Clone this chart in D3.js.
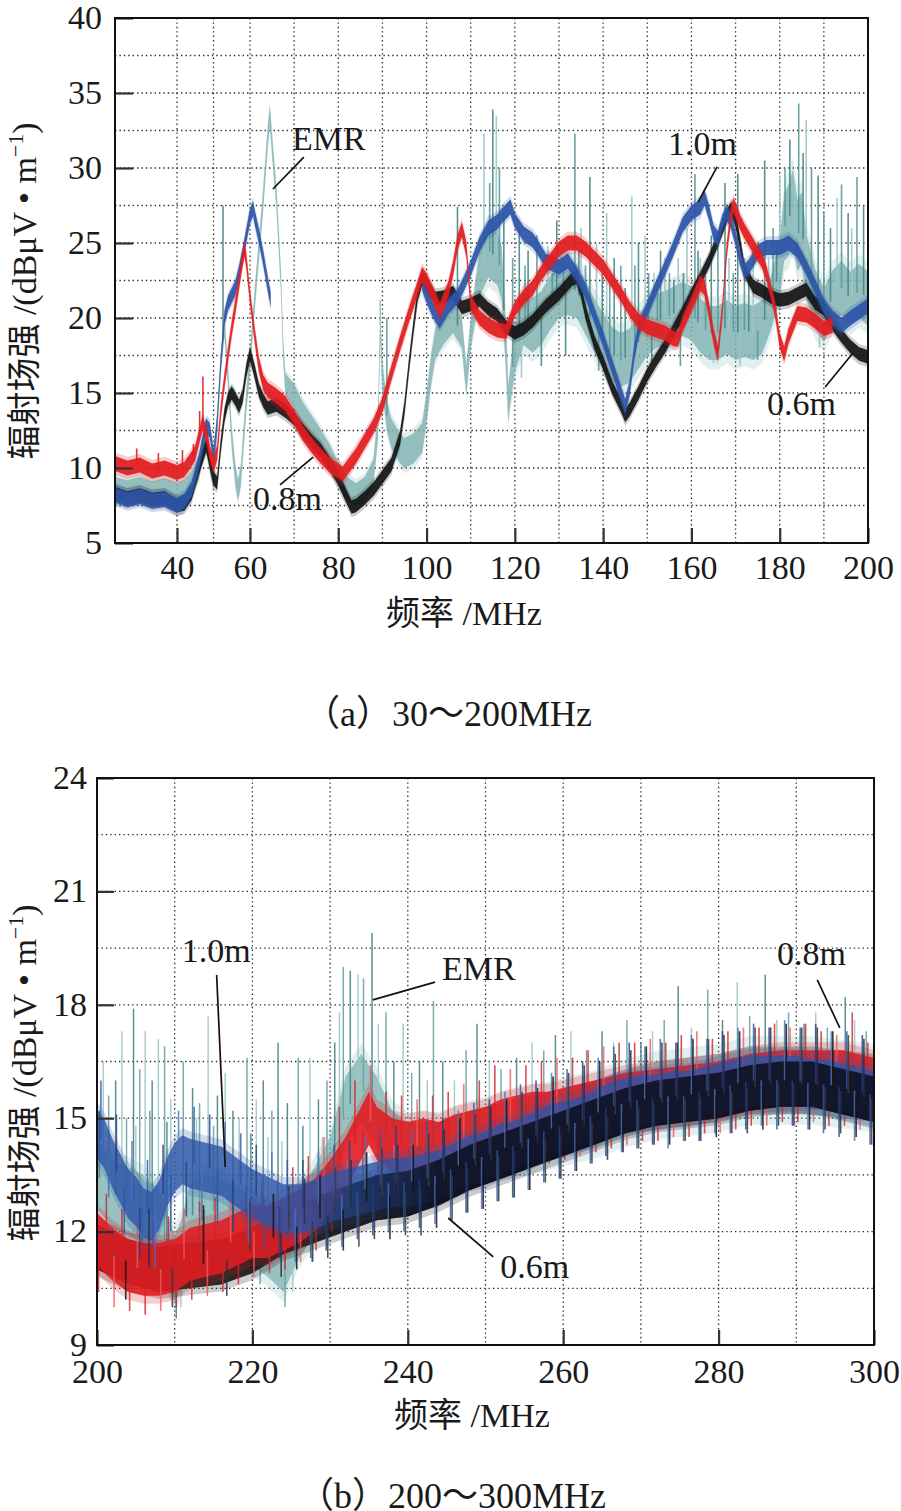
<!DOCTYPE html>
<html><head><meta charset="utf-8">
<script src="https://cdn.jsdelivr.net/npm/d3@7"></script>
<style>
body{margin:0;background:#fff;}
svg{display:block;background:#fff;}
text{font-family:"Liberation Serif","Times New Roman","Noto Sans CJK SC",serif;fill:#1a1a1a;}
</style></head><body>
<svg id="chart" width="901" height="1511"></svg>
<script>
// ================= PANEL (a) 30–200 MHz =================
const aTicksX = [40,60,80,100,120,140,160,180,200];
const aTicksY = [5,10,15,20,25,30,35,40];
const aGridX = [40,50,60,70,80,90,100,110,120,130,140,150,160,170,180,190];
const aGridY = [7.5,10,12.5,15,17.5,20,22.5,25,27.5,30,32.5,35,37.5];

// 0.6m (black)
const aFreqBlack = [30,32,34,36,38,40,42,44,46,48,50,51,52,53,54,55,56,57,58,59,60,61,62,63,64,66,68,70,72,74,76,78,80,82,83,84,86,88,90,92,94,95,96,97,98,99,100,102,104,106,108,110,112,114,116,118,120,122,124,127,130,133,134,135,136,138,140,142,144,145,146,148,150,152,154,156,158,160,162,164,166,168,169,170,171,172,174,176,178,180,182,184,186,188,190,192,194,196,198,200];
const aBlack = [8.3,8.0,8.2,7.9,8.0,7.5,7.6,8.3,10.0,11.5,9.3,9.0,11.5,13.5,14.6,15.0,14.6,14.1,14.8,16.5,17.6,16.5,15.2,14.5,14.0,14.2,13.8,13.3,12.5,11.8,11.2,10.3,9.3,8.0,7.4,7.5,8.0,8.6,9.4,10.2,12.0,14.0,16.8,19.3,21.6,22.6,22.2,21.3,21.4,21.7,20.7,20.9,21.2,20.6,20.2,19.4,19.0,19.3,19.8,20.8,21.6,22.6,22.7,21.8,20.4,18.4,17.0,15.4,14.2,13.5,13.9,15.0,16.2,17.2,18.1,19.2,20.3,21.5,22.6,23.8,25.2,26.8,27.3,26.5,25.0,23.2,22.1,21.8,21.4,21.2,21.3,21.6,21.9,21.0,20.6,19.6,18.8,18.1,17.6,17.4];

// 0.8m (red)
const aFreqRed = [30,32,34,36,38,40,42,44,45,46,47,48,49,50,51,52,53,54,55,56,57,58,58.5,59,60,61,62,63,64,66,68,70,72,74,76,78,80,81,82,84,86,88,90,92,94,96,98,99,100,102,103,104,105,106,107,108,109,110,112,114,116,118,120,122,124,126,128,130,132,134,136,138,140,142,144,146,148,150,152,154,156,157,158,160,162,163,164,165,166,167,168,169,169.5,170,171,172,174,176,177,178,179,180,181,182,184,186,188,190,192];
const aRed = [10.3,10.0,10.2,9.8,10.0,9.7,9.9,10.6,11.0,12.0,13.0,12.3,11.0,10.2,11.0,13.8,15.8,17.6,19.3,20.8,22.4,24.0,24.6,23.8,21.4,19.0,16.9,15.7,15.2,14.8,14.3,13.4,12.3,11.5,10.8,10.2,9.8,9.6,10.0,10.8,11.8,12.8,14.2,16.3,18.3,20.2,22.0,22.9,22.5,21.2,20.5,21.2,22.0,23.3,25.0,25.9,24.6,21.0,20.0,19.5,19.2,19.1,20.6,21.4,22.0,23.0,23.8,24.6,25.0,25.0,24.6,24.0,23.4,22.5,21.6,20.6,19.8,19.4,19.2,19.0,18.6,18.6,19.6,20.9,22.3,22.0,20.5,18.8,17.6,20.5,24.5,27.0,27.5,27.2,26.4,25.8,24.8,23.8,23.0,21.8,20.5,18.5,17.6,18.8,20.3,20.2,19.8,19.3,19.5];
const aRedSpikes = [[33.5,11.3],[37,11.0],[41.5,11.2],[44.5,11.6],[46.2,13.8],[47.1,16.1]];

// 1.0m (blue) – null marks the hidden stretch
const aFreqBlue = [30,32,34,36,38,40,42,44,46,48,49,50,51,52,53,54,55,56,57,58,59,60,60.7,61,62,63,64,64.7,65,99,100,101,102,103,104,105,107,108,110,112,114,116,117,119,120,122,124,125,127,130,132,134,136,138,140,142,144,145,146,147,148,150,152,154,156,158,160,162,163,164,165,166,167,168,169,170,171,172,173,175,177,180,182,184,186,188,190,192,194,196,198,200];
const aBlue = [8.2,7.9,8.1,7.8,7.9,7.5,7.8,8.6,10.4,12.8,12.5,10.8,13.0,17.0,20.0,21.0,21.5,22.0,23.0,24.2,25.5,26.8,27.3,26.8,25.5,24.0,22.3,21.2,null,22.3,21.5,20.8,20.2,19.8,20.3,20.8,21.4,22.0,23.3,24.9,26.0,26.4,26.8,27.4,26.5,25.6,25.2,24.8,23.8,23.4,23.8,22.9,21.8,20.2,18.6,16.8,15.0,14.1,15.3,17.6,19.2,20.6,22.0,23.3,24.7,26.2,27.0,27.4,28.0,27.0,25.7,25.3,26.4,27.0,26.4,25.3,24.0,23.1,23.4,24.4,24.7,24.7,25.0,24.5,23.4,22.1,20.8,20.0,19.5,20.0,20.4,20.8];

// EMR (teal)
const aFreqEmr = [30,32,34,36,38,40,42,44,46,47,48,49,50,51,52,53,54,55,56,56.7,57.5,58,59,60,61,62,63,64,64.5,65,66,67,67.5,68,70,72,74,76,78,80,82,84,86,88,89,89.5,90,91,92,94,95,97,99,100,101,102,104,106,108,109,110,112,114,116,117,118,118.5,119,120,122,124,126,128,130,132,134,136,138,140,142,144,146,148,150,152,154,156,158,160,162,164,166,168,170,172,174,176,178,180,181,182,183,184,185,186,188,190,192,194,196,198,200];
const aEmr = [8.6,8.4,8.6,8.3,8.5,8.2,8.4,9.0,10.0,11.5,12.5,10.5,9.2,13.0,17.0,19.5,16.0,12.0,9.5,8.5,9.5,11.2,14.5,17.0,21.0,24.5,28.0,32.0,33.5,31.5,28.0,22.5,18.0,15.6,14.8,13.6,12.7,11.8,10.8,9.6,8.6,8.2,8.6,9.8,13.0,19.5,16.0,13.5,12.3,11.3,11.0,11.3,12.0,14.0,16.5,18.3,19.3,20.0,19.0,15.8,19.0,23.0,24.5,24.0,23.0,18.0,14.3,15.5,18.0,20.0,19.5,20.0,21.0,21.8,22.0,21.8,20.7,19.5,18.5,17.6,17.2,17.5,18.4,19.3,19.8,20.0,20.3,20.6,20.3,19.5,19.0,19.0,19.4,19.0,19.2,19.0,19.4,21.0,23.2,26.0,26.5,27.5,25.5,26.0,23.5,21.3,20.2,21.4,22.0,21.3,21.8,21.3];
// EMR noise half-width at each EMR point (dB)
const aEmrNoise = [0.8,0.8,0.8,0.8,0.8,0.8,0.8,0.8,0.8,0.7,0.7,0.7,0.7,0.7,0.7,0.7,0.7,0.7,0.7,0.7,0.7,0.7,0.7,0.7,0.7,0.7,0.7,0.7,0.7,0.7,0.7,0.7,0.7,0.7,0.8,0.8,0.8,0.8,0.8,0.8,0.8,0.8,0.8,0.8,1.0,1.0,1.0,1.0,1.0,1.0,1.0,1.0,1.0,1.0,1.0,1.0,1.0,1.0,1.0,1.0,1.0,1.6,1.8,1.8,1.8,1.6,1.2,1.2,1.6,1.8,1.8,1.8,1.8,1.8,1.8,1.8,1.8,1.8,1.8,1.8,1.8,1.8,1.8,1.8,1.8,1.8,1.8,1.8,1.8,1.8,1.8,1.8,1.8,1.8,1.8,1.8,1.8,1.8,2.0,2.2,2.4,2.4,2.4,2.4,2.2,2.0,1.8,1.8,1.8,1.8,1.8,1.8];
const aEmrSpikeF = [52.6,89.5,91,107,113,114.3,115,115.8,116.5,117.5,118.5,119.5,121,121.5,122.3,123,124,125,126,127.5,128.5,129.5,130.3,131,131.5,132.3,133.6,134.5,135,136,137,138.5,139,139.8,140.8,141.5,142.5,143,144,145,146.5,147.2,148,149.5,150.3,151,151.5,152.3,153,154,155,156,157,157.5,158.2,159,160.8,161.5,162,163.2,164.5,165,166,167.6,168.5,169.5,170.5,171,172,173,174,175,176.6,177.5,178.5,179.3,180,181.2,182.3,183.4,184.3,185.3,186,187.2,188.7,189,190,191.5,193,194,195.5,196.3,197.5,199];
const aEmrSpikeV = [27.5,21.2,20.0,27.4,32.3,29.0,33.9,33.5,30.0,27.0,14.0,24.0,26.0,16.0,23.5,24.5,22.5,25.5,16.8,24.8,23.0,26.5,24.5,24.0,17.5,23.8,32.3,24.5,26.0,23.5,29.4,25.0,16.5,23.0,27.0,22.5,24.0,16.0,23.5,22.0,28.1,23.5,25.0,25.5,23.0,17.0,23.0,22.5,24.5,24.0,23.0,22.5,24.0,16.8,23.0,26.0,29.6,24.5,24.0,22.8,25.5,17.0,25.0,29.0,24.0,23.0,29.6,16.8,24.0,22.5,25.0,17.2,30.5,24.0,26.0,25.0,29.5,30.0,31.9,29.0,34.3,31.0,33.2,30.0,29.5,18.0,27.0,26.0,28.0,28.9,27.0,26.0,29.4,27.5];

// band half-widths (noise envelope, dB): black, red, blue
const aNoise = [0.45, 0.5, 0.5];

// ================= PANEL (b) 200–300 MHz =================
const bTicksX = [200,220,240,260,280,300];
const bTicksY = [9,12,15,18,21,24];
const bGridX = [210,220,230,240,250,260,270,280,290];
const bGridY = [10.5,12,13.5,15,16.5,18,19.5,21,22.5];

const bFreqBlue = [200,201,202,203,204,205,206,207,208,209,210,211,212,214,216,218,220,222,224,226,228,230,232,234,236,238,240,242,244,246,248,250,252,254,256,258,260,262,264,266,268,270,272,274,276,278,280,282,284,286,288,290,292,294,296,298,300];
const bBlue = [14.6,14.3,13.8,13.4,13.0,12.8,12.5,12.4,12.7,13.3,13.7,13.9,13.8,13.7,13.6,13.3,13.0,12.8,12.6,12.6,12.7,12.9,13.0,13.1,13.2,13.3,13.3,13.4,13.5,13.7,13.9,14.0,14.2,14.3,14.5,14.7,14.8,14.9,15.1,15.3,15.4,15.5,15.5,15.6,15.6,15.7,15.8,15.9,16.0,16.0,16.0,16.0,15.9,15.9,15.8,15.7,15.6];
const bBlueSpikes = [[200.5,16.0],[201.5,12.9],[202.5,15.1],[203.5,11.9],[204.5,14.4],[205.5,11.3],[206.5,13.9],[207.5,11.0],[208.5,14.3],[209.5,12.0],[210.5,15.2],[211.5,12.4],[212.5,15.3],[213.5,12.3],[214.5,15.1],[215.5,12.2],[216.5,14.9],[217.5,12.0],[218.5,14.6],[219.5,11.7],[220.5,14.3],[221.5,11.5],[222.5,14.1],[223.5,11.3],[224.5,13.9],[225.5,11.2],[226.5,13.9],[227.5,11.3],[228.5,14.1],[229.5,11.5],[230.5,14.3],[231.5,11.6],[232.5,14.4],[233.5,11.8],[234.5,14.5],[235.5,11.9],[236.5,14.7],[237.5,12.0],[238.5,14.8],[239.5,12.0],[240.5,14.7],[241.5,12.1],[242.5,14.9],[243.5,12.2],[244.5,15.0],[245.5,12.3],[246.5,15.2],[247.5,12.5],[248.5,15.4],[249.5,12.6],[250.5,15.5],[251.5,12.8],[252.5,15.7],[253.5,12.9],[254.5,15.9],[255.5,13.1],[256.5,16.0],[257.5,13.3],[258.5,16.2],[259.5,13.4],[260.5,16.3],[261.5,13.6],[262.5,16.5],[263.5,13.8],[264.5,16.6],[265.5,14.0],[266.5,16.9],[267.5,14.1],[268.5,17.0],[269.5,14.2],[270.5,16.9],[271.5,14.3],[272.5,17.1],[273.5,14.2],[274.5,17.0],[275.5,14.4],[276.5,17.2],[277.5,14.4],[278.5,17.1],[279.5,14.6],[280.5,17.3],[281.5,14.6],[282.5,17.4],[283.5,14.7],[284.5,17.5],[285.5,14.8],[286.5,17.4],[287.5,14.7],[288.5,17.6],[289.5,14.8],[290.5,17.4],[291.5,14.7],[292.5,17.5],[293.5,14.6],[294.5,17.3],[295.5,14.5],[296.5,17.3],[297.5,14.4],[298.5,17.2],[299.5,14.3]];

const bFreqRed = [200,202,204,206,208,210,212,214,216,218,220,222,224,226,228,230,232,234,235,236,238,240,242,244,246,248,250,252,254,256,258,260,264,268,272,276,280,284,288,292,296,300];
const bRed = [11.8,11.4,11.1,11.0,11.0,11.1,11.4,11.5,11.6,11.8,12.0,12.0,12.2,12.4,12.7,13.2,13.8,14.6,15.0,14.6,14.3,14.2,14.3,14.2,14.4,14.5,14.6,14.8,14.9,15.0,15.0,15.1,15.3,15.5,15.6,15.7,15.8,16.0,16.1,16.1,16.1,15.9];
const bRedSpikes = [[200.2,10.4],[201.2,13.0],[202.2,10.0],[203.2,12.6],[204.2,9.9],[205.2,12.4],[206.2,9.8],[207.2,12.3],[208.2,9.9],[209.2,12.4],[210.2,10.0],[211.2,12.6],[212.2,10.2],[213.2,12.8],[214.2,10.3],[215.2,12.9],[216.2,10.4],[217.2,13.0],[218.2,10.6],[219.2,13.2],[220.2,10.8],[221.2,13.3],[222.2,10.9],[223.2,13.4],[224.2,11.0],[225.2,13.7],[226.2,11.2],[227.2,14.0],[228.2,11.5],[229.2,14.5],[230.2,12.0],[231.2,15.3],[232.2,12.6],[233.2,16.0],[234.2,13.4],[235.2,16.4],[236.2,13.4],[237.2,15.7],[238.2,13.1],[239.2,15.6],[240.2,13.0],[241.2,15.5],[242.2,13.1],[243.2,15.6],[244.2,13.0],[245.2,15.7],[246.2,13.2],[247.2,15.9],[248.2,13.3],[249.2,16.0],[250.2,13.4],[251.2,16.4],[252.2,13.6],[253.2,16.3],[254.2,13.7],[255.2,16.4],[256.2,13.8],[257.2,16.5],[258.2,13.8],[259.2,16.6],[260.2,13.9],[261.2,16.6],[262.2,14.0],[263.2,16.8],[264.2,14.1],[265.2,16.9],[266.2,14.2],[267.2,17.0],[268.2,14.3],[269.2,17.0],[270.2,14.4],[271.2,17.1],[272.2,14.4],[273.2,17.0],[274.2,14.5],[275.2,17.2],[276.2,14.5],[277.2,17.3],[278.2,14.6],[279.2,17.1],[280.2,14.6],[281.2,17.3],[282.2,14.7],[283.2,17.4],[284.2,14.8],[285.2,17.4],[286.2,14.8],[287.2,17.5],[288.2,14.9],[289.2,17.4],[290.2,14.9],[291.2,17.5],[292.2,14.9],[293.2,17.3],[294.2,14.8],[295.2,17.2],[296.2,14.8],[297.2,17.8],[298.2,14.7],[299.2,17.0]];

const bFreqBlack = [200,204,208,212,216,220,224,228,232,236,240,244,248,252,256,260,264,268,272,276,280,284,288,292,296,300];
const bBlack = [11.6,11.2,11.0,11.1,11.2,11.5,12.0,12.3,12.6,12.9,13.0,13.3,13.7,14.0,14.3,14.6,14.9,15.2,15.4,15.5,15.6,15.8,15.9,15.9,15.7,15.5];
const bBlackSpikes = [[203.7,10.2],[206.7,12.6],[209.7,10.0],[213.7,12.7],[216.7,10.3],[219.7,12.8],[222.7,13.0],[223.7,10.8],[224.7,13.2],[225.7,11.0],[226.7,13.4],[227.7,11.2],[228.7,13.5],[229.7,11.3],[230.7,13.7],[231.7,11.5],[232.7,13.9],[233.7,11.6],[234.7,14.1],[235.7,11.8],[236.7,14.2],[237.7,11.8],[238.7,14.3],[239.7,11.9],[240.7,14.3],[241.7,11.9],[242.7,14.6],[243.7,12.1],[244.7,14.7],[245.7,12.3],[246.7,15.0],[247.7,12.5],[248.7,15.1],[249.7,12.6],[250.7,15.3],[251.7,12.8],[252.7,15.5],[253.7,12.9],[254.7,15.7],[255.7,13.1],[256.7,15.8],[257.7,13.3],[258.7,16.1],[259.7,13.4],[260.7,16.2],[261.7,13.6],[262.7,16.4],[263.7,13.8],[264.7,16.5],[265.7,13.9],[266.7,16.7],[267.7,14.1],[268.7,16.8],[269.7,14.2],[270.7,16.9],[271.7,14.3],[272.7,17.0],[273.7,14.3],[274.7,17.0],[275.7,14.4],[276.7,17.1],[277.7,14.4],[278.7,17.1],[279.7,14.5],[280.7,17.2],[281.7,14.6],[282.7,17.3],[283.7,14.6],[284.7,17.4],[285.7,14.7],[286.7,17.4],[287.7,14.8],[288.7,17.5],[289.7,14.8],[290.7,17.4],[291.7,14.7],[292.7,17.4],[293.7,14.7],[294.7,17.3],[295.7,14.6],[296.7,17.2],[297.7,14.5],[298.7,17.1],[299.7,14.3]];

const bFreqEmr = [200,202,204,206,208,210,211,212,214,216,218,220,222,224,226,228,230,232,234,236,238,240,244,248,252,256,260,264,268,272,276,280,284,288,292,296,300];
const bEmr = [13.5,13.0,12.8,12.6,12.2,11.0,11.5,12.4,12.6,12.5,12.3,12.0,11.7,11.3,12.2,12.8,13.6,15.2,15.8,15.2,14.3,14.0,14.0,14.3,14.5,14.7,14.9,15.1,15.4,15.6,15.7,15.8,16.0,16.0,16.0,15.9,15.8];
const bEmrSpikeF = [200.3,200.8,201.5,202.4,203.2,203.8,204.7,205,205.5,205.8,206.2,206.8,207.1,207.9,208.7,209,209.5,209.8,210.2,210.8,211.1,212.3,212.8,213.2,213.8,214.3,215,215.5,216.5,217,217.5,218.3,219.3,219.8,220.5,221,221.4,222,222.5,223.3,223.8,224.2,224.5,225.2,225.9,226.5,227.4,227.8,228.5,229,229.6,230.6,231.2,231.7,232.6,233.6,234.3,235.4,236.2,237.2,238.2,239.4,240.5,241.5,242.5,243.3,244.5,246,247.5,248.9,250.5,252,254,256,257.5,259,261,263,265,266.5,268.2,270,271.5,273,274.8,276.5,278.6,280.5,282.4,284,286,287.5,289,291,292.5,294,296.3,297.5,299];
const bEmrSpikeV = [15.2,16.5,15.6,16.0,17.3,15.0,17.9,14.8,16.3,10.8,17.3,15.2,16.0,17.1,16.9,14.9,15.5,10.5,9.7,10.0,16.5,15.8,15.0,15.4,10.8,17.7,14.8,15.6,16.2,11.0,15.2,15.0,16.6,14.6,15.5,10.6,16.0,14.5,15.2,17.0,14.4,10.0,15.4,10.4,16.6,14.8,16.6,11.2,15.5,14.5,16.0,17.0,17.8,19.0,18.9,18.8,18.7,19.9,17.5,17.8,16.5,17.5,16.2,16.5,16.0,18.1,16.5,16.0,16.8,17.5,16.5,16.3,16.6,17.0,16.8,17.2,17.3,16.8,17.3,17.0,17.6,17.0,17.3,17.6,18.5,17.4,18.4,17.6,18.6,17.7,18.8,17.6,17.8,17.5,17.8,17.4,18.2,17.6,17.3];

// band half-widths: black, red, blue, EMR
const bNoise = [0.6, 0.7, 0.65, 0.9];

// ---- annotations (data coordinates): label, text anchor, leader start, leader end
const aLabels = ["EMR","1.0m","0.6m","0.8m"];
const aLabelPos = [[69.5,31.2],[154.7,30.87],[177.1,13.53],[60.7,7.2]];
const aLeaders = [[[72.2,30.73],[65.2,28.6]],[[165.8,30.07],[161.5,27.73]],[[190.3,15.4],[196.6,17.67]],[[66.8,8.87],[74.3,10.73]]];
const bLabels = ["1.0m","EMR","0.8m","0.6m"];
const bLabelPos = [[210.9,19.13],[244.4,18.66],[287.5,19.05],[251.9,10.77]];
const bLeaders = [[[215.4,18.79],[216.5,13.71]],[[243.5,18.6],[235.5,18.13]],[[292.7,18.66],[295.6,17.39]],[[245.2,12.36],[251.0,11.33]]];

// ================= DRAWING =================
const svg = d3.select("#chart");
const defs = svg.append("defs");
const COL = {black:"#151515", red:"#e11d21", blue:"#2d55a7", emr:"#7fb1b2", emrDark:"#468788"};

function makeData(f, v, n){ return f.map((d,i)=>({f:d, v:v[i], n: Array.isArray(n) ? n[i] : n})); }

function band(g, x, y, f, v, n, color, op, halo){
  const data = makeData(f, v, n);
  const mk = (k)=>d3.area().defined(d=>d.v!=null).x(d=>x(d.f)).y0(d=>y(d.v-d.n*k)).y1(d=>y(d.v+d.n*k));
  g.append("path").datum(data).attr("d", mk(halo)).attr("fill", color).attr("opacity", 0.22);
  g.append("path").datum(data).attr("d", mk(1)).attr("fill", color).attr("opacity", op);
}

function spikes(g, x, y, f, v, pairs, colors, w, op){
  const keep = f.map((d,i)=>i).filter(i=>v[i]!=null);
  const base = d3.scaleLinear().domain(keep.map(i=>f[i])).range(keep.map(i=>v[i])).clamp(true);
  g.append("g").selectAll("line").data(pairs.map((d,i)=>({f:d[0], v:d[1], i}))).join("line")
    .attr("x1", d=>x(d.f)).attr("x2", d=>x(d.f))
    .attr("y1", d=>y(base(d.f))).attr("y2", d=>y(d.v))
    .attr("stroke", d=>colors[d.i % colors.length]).attr("stroke-width", w).attr("opacity", op);
}
const zip = (a,b)=>a.map((d,i)=>[d,b[i]]);

function grid(p){
  const {x, y, L, R, T, B} = p;
  const g = svg.append("g");
  g.append("g").selectAll("line").data(p.gridX).join("line")
    .attr("x1", d=>x(d)).attr("x2", d=>x(d)).attr("y1", T).attr("y2", B)
    .attr("stroke", "#2a2a2a").attr("stroke-width", 1.3).attr("stroke-dasharray", "1.4,3");
  g.append("g").selectAll("line").data(p.gridY).join("line")
    .attr("y1", d=>y(d)).attr("y2", d=>y(d)).attr("x1", L).attr("x2", R)
    .attr("stroke", "#2a2a2a").attr("stroke-width", 1.3).attr("stroke-dasharray", "1.4,3");
}

function axes(p){
  const {x, y, L, R, T, B} = p;
  const gy = svg.append("g").attr("transform", `translate(${L},0)`)
    .call(d3.axisLeft(y).tickValues(p.ticksY).tickSizeInner(-p.tickY).tickSizeOuter(0).tickPadding(p.padY).tickFormat(d3.format("d")));
  const gx = svg.append("g").attr("transform", `translate(0,${B})`)
    .call(d3.axisBottom(x).tickValues(p.ticksX).tickSizeInner(-p.tickX).tickSizeOuter(0).tickPadding(p.padX).tickFormat(d3.format("d")));
  [gx, gy].forEach(a=>{
    a.attr("font-family", '"Liberation Serif","Times New Roman",serif');
    a.select(".domain").remove();
    a.selectAll(".tick line").attr("stroke", "#333").attr("stroke-width", 2.2);
    a.selectAll(".tick text").attr("font-size", 34).attr("fill", "#1a1a1a");
  });
  gy.selectAll(".tick text").attr("dy", "0.30em");
  svg.append("rect").attr("x", L).attr("y", T).attr("width", R-L).attr("height", B-T)
    .attr("fill", "none").attr("stroke", "#111").attr("stroke-width", 2);
}

function annotate(p, labels, pos, leaders){
  const {x, y} = p;
  const g = svg.append("g");
  g.selectAll("line").data(leaders).join("line")
    .attr("x1", d=>x(d[0][0])).attr("y1", d=>y(d[0][1]))
    .attr("x2", d=>x(d[1][0])).attr("y2", d=>y(d[1][1]))
    .attr("stroke", "#111").attr("stroke-width", 1.7);
  g.selectAll("text").data(labels).join("text")
    .attr("x", (d,i)=>x(pos[i][0])).attr("y", (d,i)=>y(pos[i][1]))
    .attr("font-size", 34).text(d=>d);
}

function axisTitles(p, cx, ly, capX, capY, caption){
  const t = svg.append("text").attr("transform", `translate(36,${ly}) rotate(-90)`)
    .attr("text-anchor", "middle").attr("font-size", 34);
  t.append("tspan").text("辐射场强 /(dBμV • m");
  t.append("tspan").attr("dy", -13).attr("font-size", 22).text("−1");
  t.append("tspan").attr("dy", 13).text(")");
  svg.append("text").attr("x", cx).attr("y", p.B + 82).attr("text-anchor", "middle")
    .attr("font-size", 34).text("频率 /MHz");
  svg.append("text").attr("x", capX).attr("y", capY).attr("font-size", 36).text(caption);
}

// ---------- panel (a)
(function(){
  const L=115, R=868, T=18, B=543;
  const x = d3.scaleLinear().domain([30,40,60,200]).range([L, L+62, L+135, R]);
  const y = d3.scaleLinear().domain([5,40]).range([B, T]);
  const p = {x, y, L, R, T, B, gridX:aGridX, gridY:aGridY, ticksX:aTicksX, ticksY:aTicksY, tickY:18, tickX:15, padY:13, padX:12};
  grid(p);
  defs.append("clipPath").attr("id","clipA").append("rect").attr("x",L).attr("y",T).attr("width",R-L).attr("height",B-T);
  const g = svg.append("g").attr("clip-path","url(#clipA)");
  band(g, x, y, aFreqEmr, aEmr, aEmrNoise, COL.emr, 0.8, 1.35);
  spikes(g, x, y, aFreqEmr, aEmr, zip(aEmrSpikeF, aEmrSpikeV), [COL.emrDark, "#9cc6c6", "#5b9a9b"], 1.6, 0.9);
  band(g, x, y, aFreqBlack, aBlack, aNoise[0], COL.black, 0.92, 1.5);
  band(g, x, y, aFreqBlue, aBlue, aNoise[2], COL.blue, 0.92, 1.5);
  band(g, x, y, aFreqRed, aRed, aNoise[1], COL.red, 0.92, 1.5);
  spikes(g, x, y, aFreqRed, aRed, aRedSpikes, [COL.red], 1.6, 0.9);
  axes(p);
  annotate(p, aLabels, aLabelPos, aLeaders);
  axisTitles(p, 464, 291, 304, 726, "（a）30～200MHz");
})();

// ---------- panel (b)
(function(){
  const L=97, R=874, T=778, B=1345;
  const x = d3.scaleLinear().domain([200,300]).range([L, R]);
  const y = d3.scaleLinear().domain([9,24]).range([B, T]);
  const p = {x, y, L, R, T, B, gridX:bGridX, gridY:bGridY, ticksX:bTicksX, ticksY:bTicksY, tickY:17, tickX:15, padY:10, padX:14};
  grid(p);
  defs.append("clipPath").attr("id","clipB").append("rect").attr("x",L).attr("y",T).attr("width",R-L).attr("height",B-T);
  // fade-in mask: the 0.6m trace lies on top of the others only above ~235 MHz
  const grad = defs.append("linearGradient").attr("id","fadeB").attr("gradientUnits","userSpaceOnUse")
    .attr("x1", x(226)).attr("x2", x(244)).attr("y1", 0).attr("y2", 0);
  grad.append("stop").attr("offset", 0).attr("stop-color", "#000");
  grad.append("stop").attr("offset", 1).attr("stop-color", "#fff");
  defs.append("mask").attr("id","maskB").attr("maskUnits","userSpaceOnUse")
    .attr("x",0).attr("y",0).attr("width",901).attr("height",1511)
    .append("rect").attr("x",0).attr("y",0).attr("width",901).attr("height",1511).attr("fill","url(#fadeB)");

  const g = svg.append("g").attr("clip-path","url(#clipB)");
  band(g, x, y, bFreqEmr, bEmr, bNoise[3], COL.emr, 0.75, 1.3);
  spikes(g, x, y, bFreqEmr, bEmr, zip(bEmrSpikeF, bEmrSpikeV), [COL.emrDark, "#9fc8c8", "#6aa3a4"], 1.5, 0.9);
  band(g, x, y, bFreqBlack, bBlack, bNoise[0], COL.black, 0.9, 1.3);
  band(g, x, y, bFreqRed, bRed, bNoise[1], COL.red, 0.88, 1.3);
  spikes(g, x, y, bFreqRed, bRed, bRedSpikes, [COL.red, "#c22a33", "#ef5a5f"], 1.6, 0.8);
  band(g, x, y, bFreqBlue, bBlue, bNoise[2], COL.blue, 0.8, 1.3);
  const top = g.append("g").attr("mask","url(#maskB)");
  band(top, x, y, bFreqBlack, bBlack, bNoise[0], "#0d1020", 0.85, 1.0);
  spikes(g, x, y, bFreqBlue, bBlue, bBlueSpikes, [COL.blue, "#4a70bd", "#1f3f86"], 1.6, 0.8);
  spikes(g, x, y, bFreqBlack, bBlack, bBlackSpikes, [COL.black, "#2b2f45", "#3a3a3a"], 1.6, 0.85);
  axes(p);
  annotate(p, bLabels, bLabelPos, bLeaders);
  axisTitles(p, 472, 1073, 298, 1508, "（b）200～300MHz");
})();
</script>
</body></html>
